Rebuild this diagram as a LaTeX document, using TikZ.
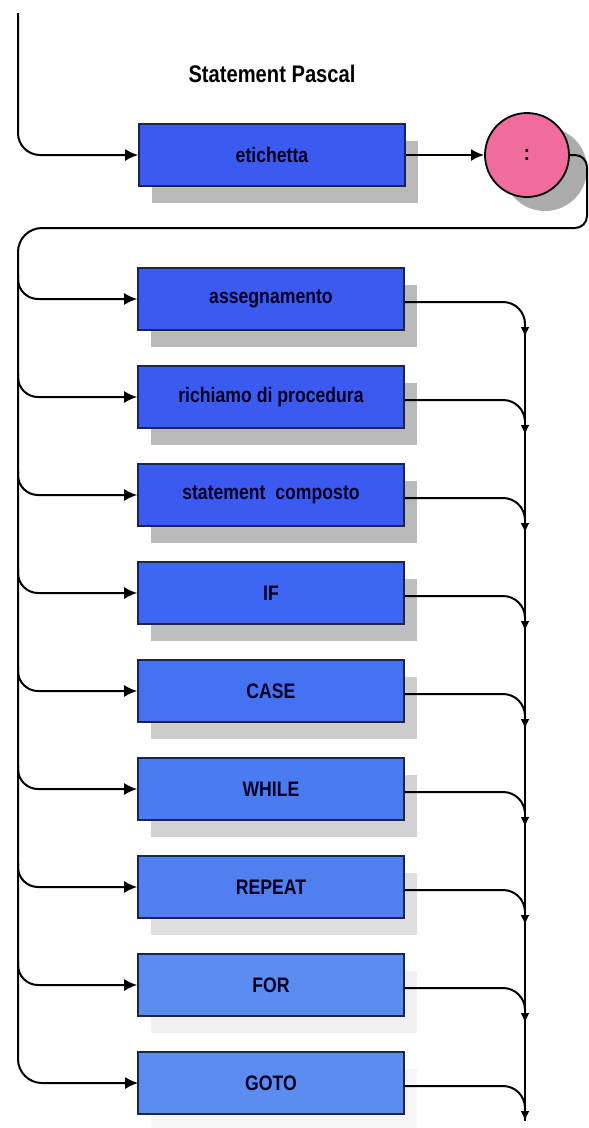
\documentclass[tikz,border=0pt]{standalone}
\usepackage{fontspec}
\setmainfont{Liberation Sans}[FakeStretch=0.84]
\usetikzlibrary{arrows.meta,shadows}

\definecolor{boxA}{HTML}{3B5AF0}
\definecolor{boxB}{HTML}{3E66F3}
\definecolor{boxC}{HTML}{4572F2}
\definecolor{boxD}{HTML}{4B7BF0}
\definecolor{boxE}{HTML}{5080EF}
\definecolor{boxF}{HTML}{5B8DF0}
\definecolor{boxline}{HTML}{1C2450}
\definecolor{dotpink}{HTML}{F06C9C}

\begin{document}
\begin{tikzpicture}[x=1pt,y=-1pt]
\tikzset{ >={Latex[length=13pt,width=12pt]}, line/.style={line width=2pt},
  box/.style={draw=boxline, line width=1.6pt, minimum width=266pt, minimum height=62pt,
    inner sep=0pt, text=black!85!blue, font=\bfseries\fontsize{21}{24}\selectfont},
  boxshadow/.style={drop shadow={shadow xshift=13pt, shadow yshift=-17pt, opacity=1, fill=gray!#1}},
  downtip/.style={-{Latex[length=10pt,width=9pt]}},
}

\useasboundingbox (0,0) rectangle (589,1128);

%\draw [lightgray, dashed](0,0) grid[step=50] (589,1128);

\node [font=\bfseries\fontsize{24}{28}\selectfont] (title) at (272,74) {Statement Pascal};

% etichetta and the colon
\node [box, fill=boxA, boxshadow=55] (eti) at (272,155) {etichetta};
\node [circle, minimum size=84pt, fill=gray!65] (colonsh) at (545,169) {};
\node [circle, draw, line width=1.8pt, minimum size=84pt, fill=dotpink,
       font=\bfseries\fontsize{22}{24}\selectfont] (colon) at (527,155) {:};

\coordinate (start) at (18,13);
\coordinate (ne) at (587,155);
\coordinate (se) at (587,228);
\coordinate (sw) at (18,228);
\coordinate (bot) at (18,1083);

\draw [line, ->, rounded corners=22pt] (start) |- (eti.west);
\draw [line, ->] (eti.east) -- (colon.west);
\draw [line, ->] (colon.east) [rounded corners=12pt] -- (ne) -- (se)
      [rounded corners=24pt] -- (sw) -- (bot) -- (bot -| eti.west);

% the statements
\foreach \nm/\txt/\col/\sh [count=\i] in {
    asg/assegnamento/boxA/55,
    proc/richiamo di procedura/boxA/55,
    comp/statement\ \ composto/boxA/55,
    if/IF/boxB/50,
    case/CASE/boxC/40,
    while/WHILE/boxD/35,
    repeat/REPEAT/boxE/25,
    for/FOR/boxF/12,
    goto/GOTO/boxF/8}
{
  \pgfmathsetmacro\yy{299+98*(\i-1)}
  \node [box, fill=\col, boxshadow=\sh] (\nm) at (271,\yy) {\txt};
  \coordinate (l\i) at (18,\yy-24);
  \coordinate (r\i) at (525,\yy+26);
  \coordinate (a\i) at (525,\yy+38);
  \ifnum\i<9
    \draw [line, ->, rounded corners=20pt] (l\i) |- (\nm.west);
  \fi
  \draw [line, rounded corners=22pt] ([yshift=-3pt]\nm.east) -| (r\i);
  \draw [line, downtip] (r\i) -- (a\i);
}

\draw [line] (r1) -- (a9);

\end{tikzpicture}
\end{document}
